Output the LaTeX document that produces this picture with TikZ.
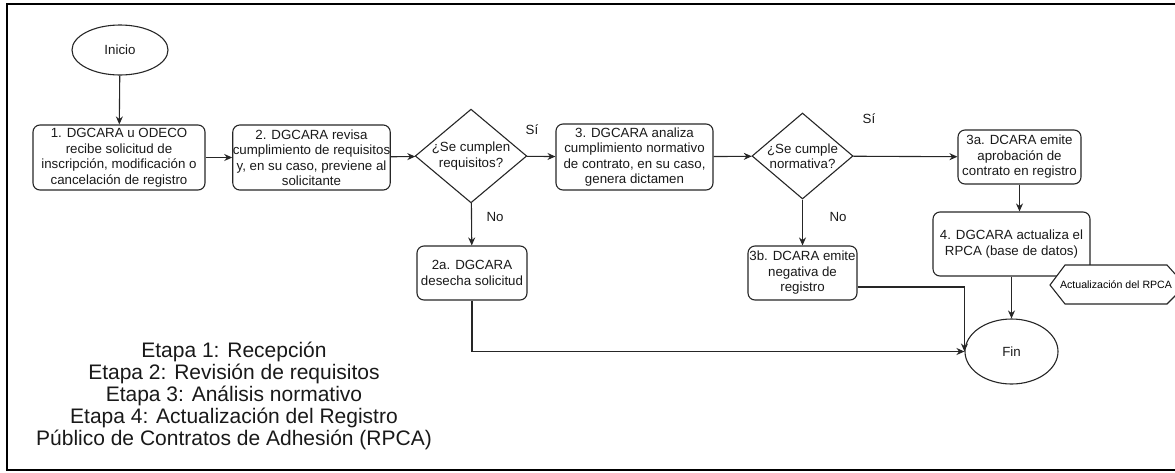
\documentclass[tikz,border=0pt]{standalone}
\usepackage{fontspec}
\setmainfont{Liberation Sans}
\usetikzlibrary{shapes.geometric,arrows.meta}
\tikzset{
  ln/.style={draw=black!85, line width=1.1pt},
  arr/.style={ln, -{Stealth[length=8pt,width=7pt]}},
  txt/.style={font=\fontsize{13.3}{15.5}\selectfont, text=black!90},
  proc/.style={ln, txt, rounded corners=7pt, align=center, inner sep=0pt},
  term/.style={ln, txt, ellipse, inner sep=0pt, align=center},
  dec/.style={ln, txt, diamond, inner sep=0pt, aspect=1.19, align=center},
  lbl/.style={txt, inner sep=0pt},
}
\begin{document}
\begin{tikzpicture}[x=1pt,y=-1pt]
\useasboundingbox (0,0) rectangle (1175,472);
\draw[line width=2pt] (1180,4) -- (7,4) -- (7,470) -- (1180,470);
% nodes
\node[term, minimum width=96pt, minimum height=50pt] (ini) at (120,50) {Inicio};
\node[proc, minimum width=172pt, minimum height=65pt] (b1) at (119,157.5) {1. DGCARA u ODECO\\recibe solicitud de\\inscripción, modificación o\\cancelación de registro};
\node[proc, minimum width=157pt, minimum height=65pt] (b2) at (311.5,157.5) {2. DGCARA revisa\\cumplimiento de requisitos\\y, en su caso, previene al\\solicitante};
\node[dec, minimum width=102pt, minimum height=86pt] (d1) at (471,156) {¿Se cumplen\\requisitos?};
\node[proc, minimum width=157pt, minimum height=66pt] (b3) at (634.5,157) {3. DGCARA analiza\\cumplimiento normativo\\de contrato, en su caso,\\genera dictamen};
\node[dec, minimum width=101pt, minimum height=86pt] (d2) at (802.5,156) {¿Se cumple\\normativa?};
\node[proc, minimum width=123pt, minimum height=54pt] (b3a) at (1019.5,157) {3a. DCARA emite\\aprobación de\\contrato en registro};
\node[proc, minimum width=157pt, minimum height=64pt] (b4) at (1011.5,244) {4. DGCARA actualiza el\\RPCA (base de datos)};
\node[proc, minimum width=110pt, minimum height=54pt] (b2a) at (472,273) {2a. DGCARA\\desecha solicitud};
\node[proc, minimum width=109pt, minimum height=54pt] (b3b) at (802.5,273) {3b. DCARA emite\\negativa de\\registro};
\node[term, minimum width=93pt, minimum height=65pt] (fin) at (1011.5,351.5) {Fin};
% hexagon
\filldraw[ln, fill=white] (1050,285) -- (1065,265) -- (1167,265) -- (1176,275) -- (1176,295) -- (1167,304) -- (1065,304) -- cycle;
\node[inner sep=0pt, font=\fontsize{10.6}{13}\selectfont] (hex) at (1116,285) {Actualización del RPCA};
% labels
\node[lbl] (si1) at (532,130) {Sí};
\node[lbl] (no1) at (495,217) {No};
\node[lbl] (si2) at (869,119) {Sí};
\node[lbl] (no2) at (838,217) {No};
\node[align=center, inner sep=0pt, font=\fontsize{21}{22}\selectfont, text=black!90] (etapas) at (234,396) {Etapa 1: Recepción\\Etapa 2: Revisión de requisitos\\Etapa 3: Análisis normativo\\Etapa 4: Actualización del Registro\\Público de Contratos de Adhesión (RPCA)};
% connectors
\draw[arr] (ini) -- (b1);
\draw[arr] (b1) -- (b2);
\draw[arr] (b2) -- (d1);
\draw[arr] (d1) -- (b3);
\draw[arr] (d1) -- (b2a);
\draw[arr] (b3) -- (d2);
\draw[arr] (d2) -- (b3a);
\draw[arr] (d2) -- (b3b);
\draw[arr] (b3a.south) -- (b3a.south |- b4.north);
\draw[arr] (b4.south -| fin.north) -- (fin.north);
\draw[arr] (b2a.south) |- (fin.west);
\draw[arr] ([yshift=-14pt]b3b.east) -| (fin.west);
\end{tikzpicture}
\end{document}
